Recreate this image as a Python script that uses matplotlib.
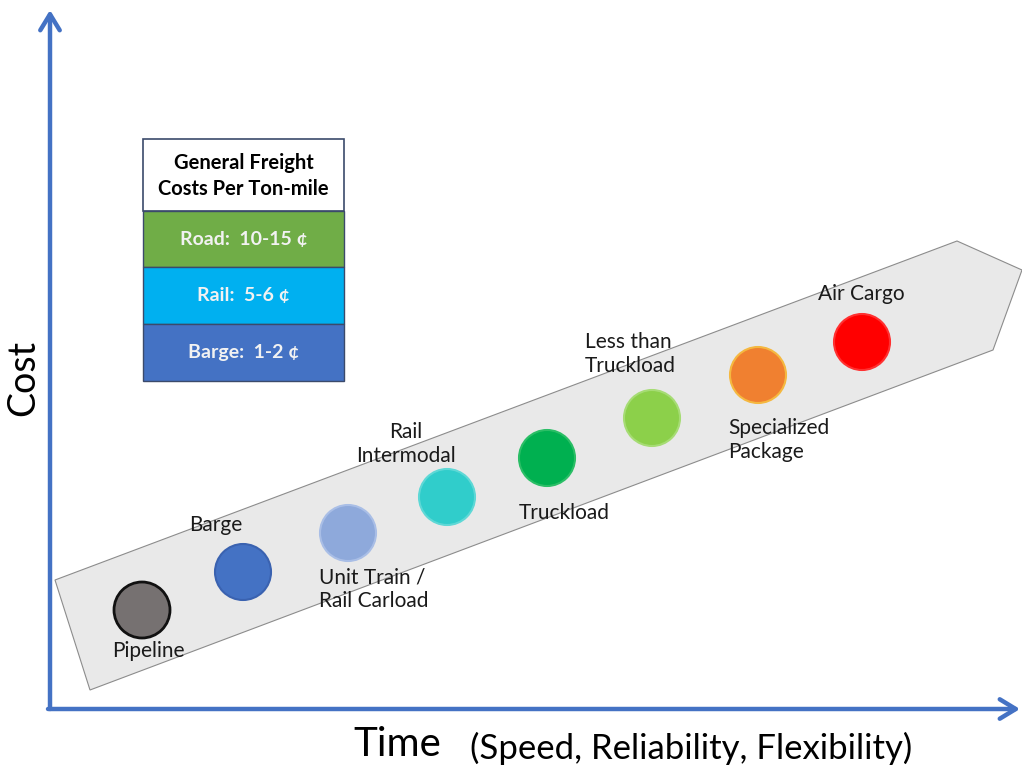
import matplotlib.pyplot as plt
from matplotlib.patches import Circle, Polygon, Rectangle

plt.rcParams['font.family'] = ['Lato', 'DejaVu Sans']

# freight modes along the band (pixel-like coordinates of the slide)
modes = ['Pipeline', 'Barge', 'Unit Train /\nRail Carload', 'Rail\nIntermodal',
         'Truckload', 'Less than\nTruckload', 'Specialized\nPackage', 'Air Cargo']
mode_x = [142, 243, 348, 447, 547, 652, 758, 862]
mode_y = [610, 572, 533, 497, 458, 418, 375, 342]
mode_colors = ['#767171', '#4472C4', '#8EA9DB', '#30CDCB', '#00B050', '#8CD04A', '#F08030', '#FF0000']
edge_colors = ['#111111', '#3A62B0', '#A9BEE6', '#5ED8D6', '#2BBE66', '#A6DC74', '#F5B840', '#FF3030']

label_x = [148, 216, 319, 406, 564, 585, 728, 861]
label_y = [651, 525, 589, 444, 513, 354, 440, 294]
label_ha = ['center', 'center', 'left', 'center', 'center', 'left', 'left', 'center']

band_x = [55, 957, 1022, 993, 90]
band_y = [580, 241, 270, 350, 690]

table_rows = ['Road:  10-15 ¢', 'Rail:  5-6 ¢', 'Barge:  1-2 ¢']
table_colors = ['#70AD47', '#00B0F0', '#4472C4']

fig = plt.figure(figsize=(10.22, 7.65), dpi=100)
ax = fig.add_axes([0, 0, 1, 1])
ax.set_xlim(0, 1022)
ax.set_ylim(765, 0)
ax.axis('off')

# gray band
ax.add_patch(Polygon(list(zip(band_x, band_y)), closed=True, facecolor='#E9E9E9',
                     edgecolor='#8C8C8C', linewidth=0.8, zorder=1))

# circles and labels
for i in range(len(modes)):
    ax.add_patch(Circle((mode_x[i], mode_y[i]), 28, facecolor=mode_colors[i],
                        edgecolor=edge_colors[i], linewidth=2 if i == 0 else 1.5, zorder=3))
    ax.text(label_x[i], label_y[i], modes[i], ha=label_ha[i], va='center',
            fontsize=15, color='#1A1A1A', linespacing=1.2, zorder=4)

# axes arrows
arrow_kw = dict(arrowstyle='->,head_length=1.15,head_width=0.7', color='#4472C4',
                lw=3.2, capstyle='round', joinstyle='round', shrinkA=0, shrinkB=0)
ax.annotate('', xy=(50, 10), xytext=(50, 709), arrowprops=arrow_kw, zorder=5)
ax.annotate('', xy=(1020, 709), xytext=(48, 709), arrowprops=arrow_kw, zorder=5)

ax.text(23, 378, 'Cost', rotation=90, ha='center', va='center', fontsize=27, color='black')
ax.text(353, 745, 'Time', ha='left', va='center', fontsize=29, color='black')
ax.text(470, 748, '(Speed, Reliability, Flexibility)', ha='left', va='center',
        fontsize=25, color='black')

# cost table
tx0, tx1 = 143, 344
row_edges = [139, 211, 267, 324, 381]
ax.add_patch(Rectangle((tx0, row_edges[0]), tx1 - tx0, row_edges[1] - row_edges[0],
                       facecolor='white', edgecolor='#3B4A6B', linewidth=1.2, zorder=6))
ax.text((tx0 + tx1) / 2, (row_edges[0] + row_edges[1]) / 2 + 1,
        'General Freight\nCosts Per Ton-mile', ha='center', va='center',
        fontsize=14.5, fontweight='bold', color='black', linespacing=1.4, zorder=7)
for i in range(len(table_rows)):
    top = row_edges[i + 1]
    bot = row_edges[i + 2]
    ax.add_patch(Rectangle((tx0, top), tx1 - tx0, bot - top, facecolor=table_colors[i],
                           edgecolor='#3B4A6B', linewidth=1.0, zorder=6))
    ax.text((tx0 + tx1) / 2, (top + bot) / 2, table_rows[i], ha='center', va='center',
            fontsize=14, fontweight='bold', color='#F2F2F2', zorder=7)

fig.savefig('out.png', dpi=100)
